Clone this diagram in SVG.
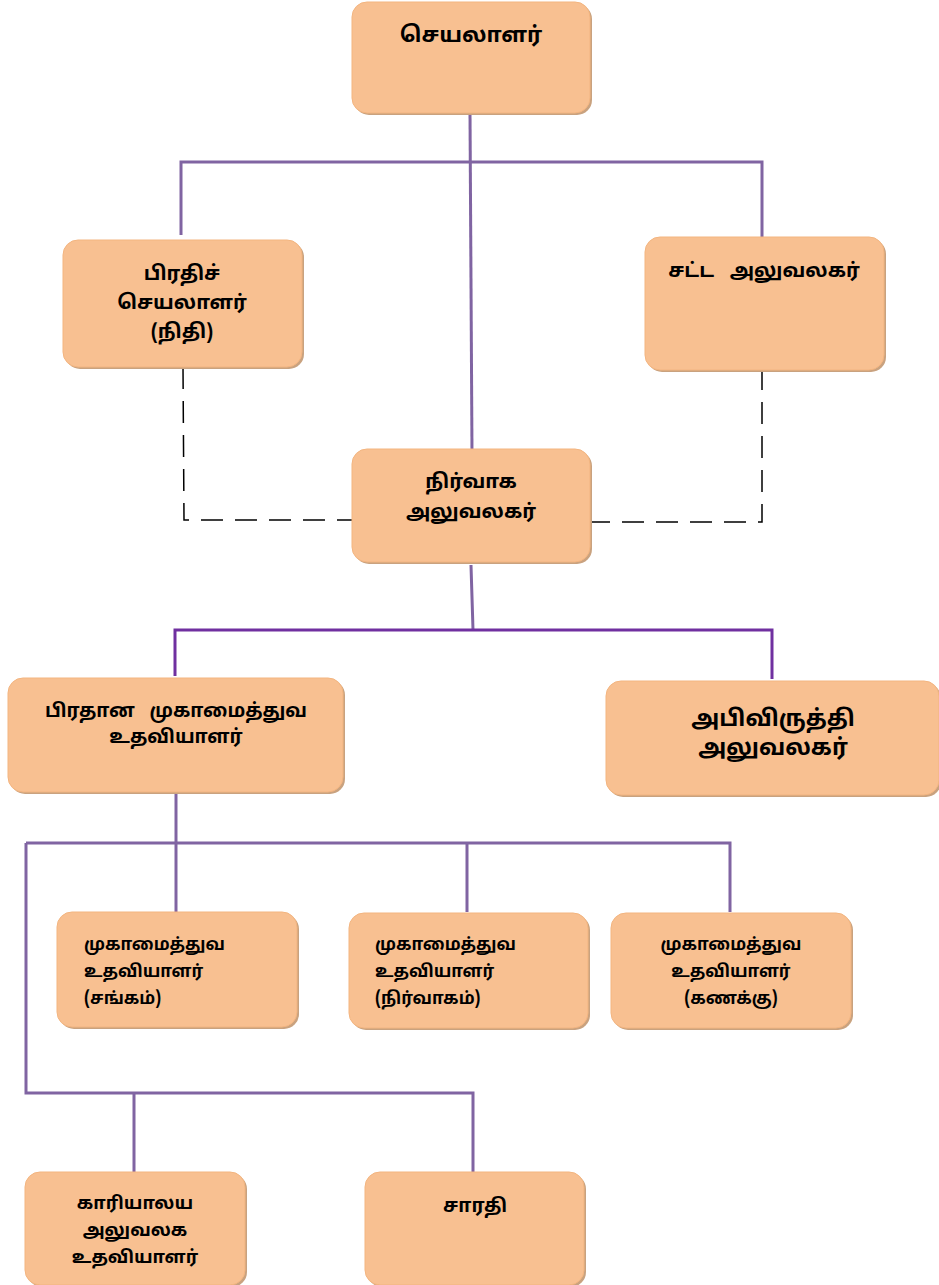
<svg xmlns="http://www.w3.org/2000/svg" width="939" height="1285" viewBox="0 0 939 1285">
<defs>
<style>
.box{fill:#F8C091;stroke:#F3B580;stroke-width:1}
.sh{fill:#C9A27F}
.t{font-family:"Noto Sans Tamil","Lohit Tamil","Noto Sans","DejaVu Sans",sans-serif;font-weight:bold;fill:#000;text-anchor:middle}
.l{fill:none;stroke:#8064A2;stroke-width:3}
.d{fill:none;stroke:#000;stroke-width:1.5;stroke-dasharray:22 12}
</style>
</defs>
<g id="connectors">
<path class="l" d="M470 113 L472 452"/>
<path class="l" d="M181 235 L181 162 L762 162 L762 237"/>
<path class="d" d="M183 367 L184 520 L352 520"/>
<path class="d" d="M762 368 L762 522 L590 522"/>
<path class="l" d="M471 565 L473 630"/>
<path class="l" style="stroke:#7030A0" d="M175 676 L175 630 L772 630 L772 679"/>
<path class="l" d="M176 792 L176 912"/>
<path class="l" d="M467 912 L467 843 M26 843 L730 843 L730 912"/>
<path class="l" d="M26 843 L26 1093 L473 1093 L473 1172 M134 1093 L134 1172"/>
</g>
<g id="n1"><rect class="sh" x="354" y="4" width="238" height="111" rx="15"/><rect class="box" x="352" y="2" width="238" height="111" rx="15"/><text class="t" x="471" y="42" font-size="22">செயலாளர்</text></g>
<g id="n2"><rect class="sh" x="65" y="242" width="239" height="127" rx="15"/><rect class="box" x="63" y="240" width="239" height="127" rx="15"/><text class="t" x="182" y="280" font-size="20">பிரதிச்</text><text class="t" x="182" y="309" font-size="20">செயலாளர்</text><text class="t" x="182" y="338" font-size="20">(நிதி)</text></g>
<g id="n3"><rect class="sh" x="647" y="239" width="239" height="133" rx="15"/><rect class="box" x="645" y="237" width="239" height="133" rx="15"/><text class="t" x="764" y="277" font-size="20">சட்ட&#160;&#160;&#160;அலுவலகர்</text></g>
<g id="n4"><rect class="sh" x="354" y="451" width="238" height="113" rx="15"/><rect class="box" x="352" y="449" width="238" height="113" rx="15"/><text class="t" x="471" y="488" font-size="20">நிர்வாக</text><text class="t" x="471" y="518" font-size="20">அலுவலகர்</text></g>
<g id="n5"><rect class="sh" x="10" y="680" width="335" height="114" rx="15"/><rect class="box" x="8" y="678" width="335" height="114" rx="15"/><text class="t" x="176" y="717" font-size="19">பிரதான&#160;&#160;&#160;முகாமைத்துவ</text><text class="t" x="176" y="743" font-size="19">உதவியாளர்</text></g>
<g id="n6"><rect class="sh" x="608" y="683" width="333" height="114" rx="15"/><rect class="box" x="606" y="681" width="333" height="114" rx="15"/><text class="t" x="773" y="726" font-size="23">அபிவிருத்தி</text><text class="t" x="773" y="755" font-size="23">அலுவலகர்</text></g>
<g id="n7"><rect class="sh" x="59" y="914" width="240" height="115" rx="15"/><rect class="box" x="57" y="912" width="240" height="115" rx="15"/><text class="t" x="84" y="950" font-size="17" style="text-anchor:start">முகாமைத்துவ</text><text class="t" x="84" y="977" font-size="17" style="text-anchor:start">உதவியாளர்</text><text class="t" x="84" y="1004" font-size="17" style="text-anchor:start">(சங்கம்)</text></g>
<g id="n8"><rect class="sh" x="351" y="915" width="239" height="115" rx="15"/><rect class="box" x="349" y="913" width="239" height="115" rx="15"/><text class="t" x="375" y="950" font-size="17" style="text-anchor:start">முகாமைத்துவ</text><text class="t" x="375" y="977" font-size="17" style="text-anchor:start">உதவியாளர்</text><text class="t" x="375" y="1004" font-size="17" style="text-anchor:start">(நிர்வாகம்)</text></g>
<g id="n9"><rect class="sh" x="613" y="915" width="240" height="115" rx="15"/><rect class="box" x="611" y="913" width="240" height="115" rx="15"/><text class="t" x="731" y="950" font-size="17">முகாமைத்துவ</text><text class="t" x="731" y="977" font-size="17">உதவியாளர்</text><text class="t" x="731" y="1004" font-size="17">(கணக்கு)</text></g>
<g id="n10"><rect class="sh" x="27" y="1174" width="220" height="113" rx="15"/><rect class="box" x="25" y="1172" width="220" height="113" rx="15"/><text class="t" x="135" y="1209" font-size="18">காரியாலய</text><text class="t" x="135" y="1236" font-size="18">அலுவலக</text><text class="t" x="135" y="1263" font-size="18">உதவியாளர்</text></g>
<g id="n11"><rect class="sh" x="367" y="1174" width="219" height="113" rx="15"/><rect class="box" x="365" y="1172" width="219" height="113" rx="15"/><text class="t" x="475" y="1212" font-size="19">சாரதி</text></g>
</svg>
